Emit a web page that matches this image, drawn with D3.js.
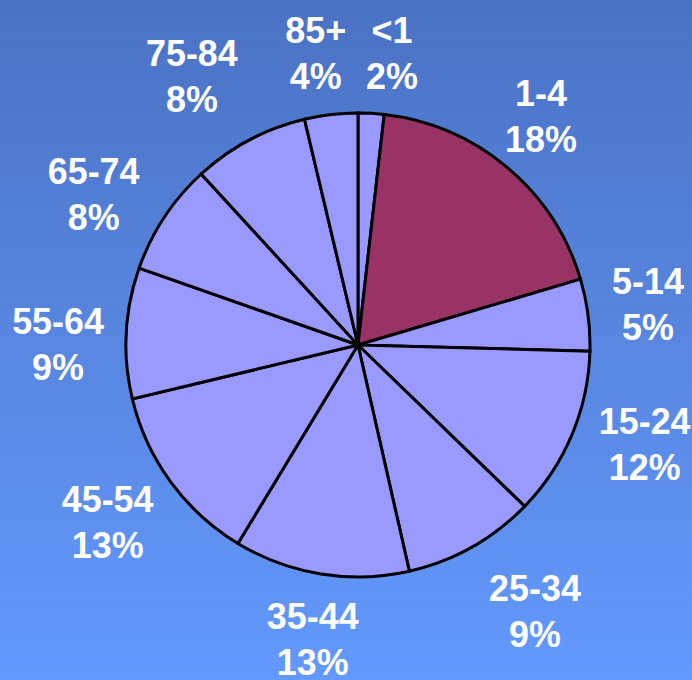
<!DOCTYPE html>
<html lang="en">
<head>
<meta charset="UTF-8">
<title>Pie</title>
<script src="https://d3js.org/d3.v7.min.js"></script>
<style>
  body { margin: 0; }
  .slice { stroke: #000; stroke-width: 3; }
  .lbl { fill: #fff; font-family: "Liberation Sans", Arial, sans-serif; font-weight: bold; font-size: 37px; }
</style>
</head>
<body>
<script>
// age groups, clockwise from 12 o'clock
var groups = ["<1", "1-4", "5-14", "15-24", "25-34", "35-44", "45-54", "55-64", "65-74", "75-84", "85+"];
var shares = [1.8, 18.6, 5.0, 11.8, 9.2, 12.2, 12.6, 9.1, 7.8, 8.1, 3.7];
var pctLabels = ["2%", "18%", "5%", "12%", "9%", "13%", "13%", "9%", "8%", "8%", "4%"];
// label anchor angle (deg clockwise from top) and distance from centre
var labelAngle = [6.6, 38.5, 81.8, 108.9, 146.3, 188.8, 234.9, 270.4, 299.9, 328.4, 351.8];
var labelDist = [295, 294, 293, 303, 319, 296, 306, 300, 305, 317, 296];

var width = 692, height = 680;
var cx = 358, cy = 345, r = 232;

var svg = d3.select("body").append("svg")
    .attr("width", width)
    .attr("height", height);

var grad = svg.append("defs").append("linearGradient")
    .attr("id", "bg").attr("x1", 0).attr("y1", 0).attr("x2", 0).attr("y2", 1);
grad.append("stop").attr("offset", "0%").attr("stop-color", "#4a72c4");
grad.append("stop").attr("offset", "50%").attr("stop-color", "#5886e0");
grad.append("stop").attr("offset", "100%").attr("stop-color", "#6299fc");

svg.append("rect").attr("width", width).attr("height", height).attr("fill", "url(#bg)");

var pie = d3.pie().sort(null).value(function(d) { return d; });
var arc = d3.arc().innerRadius(0).outerRadius(r);

var g = svg.append("g").attr("transform", "translate(" + cx + "," + cy + ")");

g.selectAll(".slice")
    .data(pie(shares))
  .enter().append("path")
    .attr("class", "slice")
    .attr("fill", function(d, i) { return groups[i] === "1-4" ? "#993366" : "#9999ff"; })
    .attr("d", arc);

// labels: two lines, centred on the anchor point
var labels = g.selectAll(".lbl")
    .data(groups)
  .enter().append("text")
    .attr("class", "lbl")
    .attr("text-anchor", "middle")
    .attr("transform", function(d, i) {
        var a = labelAngle[i] * Math.PI / 180;
        var x = Math.sin(a) * labelDist[i], y = -Math.cos(a) * labelDist[i];
        return "translate(" + x + "," + y + ") scale(0.97,1)";
    });

labels.append("tspan").attr("x", 0).attr("y", -9).text(function(d) { return d; });
labels.append("tspan").attr("x", 0).attr("y", 37).text(function(d, i) { return pctLabels[i]; });
</script>
</body>
</html>
